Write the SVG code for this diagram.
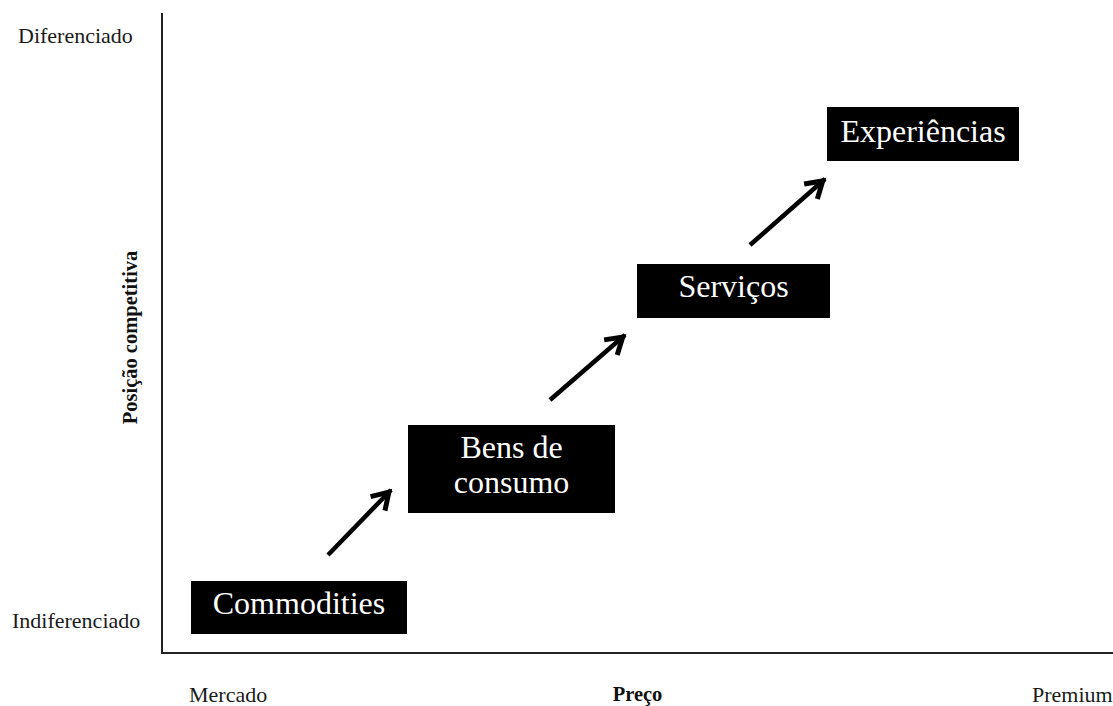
<svg xmlns="http://www.w3.org/2000/svg" width="1113" height="706" viewBox="0 0 1113 706">
  <style>
    .axis { stroke: #222; stroke-width: 2; fill: none; }
    .label { font-family: "Liberation Serif", "Times New Roman", serif; font-size: 22px; fill: #1a1a1a; }
    .title { font-family: "Liberation Serif", "Times New Roman", serif; font-size: 20.5px; font-weight: bold; fill: #111; }
    .box { fill: #000; }
    .boxtext { font-family: "Liberation Serif", "Times New Roman", serif; font-size: 32px; fill: #fff; text-anchor: middle; }
    .arrow { stroke: #000; stroke-width: 4.5; fill: none; marker-end: url(#head); }
  </style>
  <defs>
    <marker id="head" markerUnits="userSpaceOnUse" viewBox="-24 -14 28 28" refX="0" refY="0" markerWidth="28" markerHeight="28" orient="auto">
      <path d="M-19,-10 L-3,0 L-19,10" stroke="#000" stroke-width="5" fill="none" stroke-linejoin="miter" stroke-miterlimit="10"/>
    </marker>
  </defs>

  <rect width="1113" height="706" fill="#fff"/>

  <!-- axes -->
  <g id="axes">
    <line class="axis" x1="162" y1="13" x2="162" y2="653"/>
    <line class="axis" x1="161" y1="653" x2="1113" y2="653"/>
  </g>

  <!-- axis labels -->
  <g id="axis-labels">
    <text class="label" x="18" y="43">Diferenciado</text>
    <text class="label" x="12" y="628">Indiferenciado</text>
    <text class="label" x="189" y="702">Mercado</text>
    <text class="label" x="1032" y="702">Premium</text>
    <text class="title" x="637.5" y="701" text-anchor="middle">Preço</text>
    <text class="title" transform="translate(137,337.5) rotate(-90)" text-anchor="middle">Posição competitiva</text>
  </g>

  <!-- nodes -->
  <g id="commodities">
    <rect class="box" x="191" y="581" width="216" height="53"/>
    <text class="boxtext" x="299" y="614">Commodities</text>
  </g>
  <g id="bens-de-consumo">
    <rect class="box" x="408" y="425" width="207" height="88"/>
    <text class="boxtext" x="511.5" y="458">Bens de</text>
    <text class="boxtext" x="511.5" y="493">consumo</text>
  </g>
  <g id="servicos">
    <rect class="box" x="637" y="264" width="193" height="54"/>
    <text class="boxtext" x="733.5" y="297">Serviços</text>
  </g>
  <g id="experiencias">
    <rect class="box" x="827" y="107" width="192" height="54"/>
    <text class="boxtext" x="923" y="142">Experiências</text>
  </g>

  <!-- connectors -->
  <g id="connectors">
    <line class="arrow" x1="328" y1="555" x2="391" y2="490"/>
    <line class="arrow" x1="550" y1="400" x2="625" y2="335"/>
    <line class="arrow" x1="750" y1="245" x2="825" y2="179"/>
  </g>
</svg>
